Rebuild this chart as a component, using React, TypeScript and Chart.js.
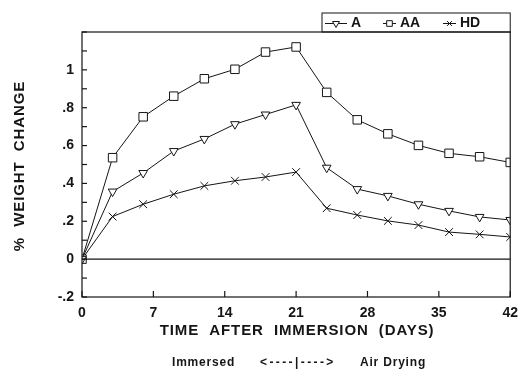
import React, { useEffect, useRef } from "react";
import { Chart, registerables } from "chart.js";

Chart.register(...registerables);

const days = [0, 3, 6, 9, 12, 15, 18, 21, 24, 27, 30, 33, 36, 39, 42];
const aValues = [0, 0.357, 0.455, 0.571, 0.635, 0.713, 0.764, 0.815, 0.483, 0.37, 0.334, 0.29, 0.255, 0.223, 0.207];
const aaValues = [0, 0.536, 0.752, 0.861, 0.953, 1.003, 1.094, 1.121, 0.881, 0.736, 0.662, 0.601, 0.559, 0.541, 0.511];
const hdValues = [0, 0.225, 0.29, 0.343, 0.387, 0.414, 0.434, 0.46, 0.269, 0.233, 0.202, 0.18, 0.143, 0.131, 0.117];
const seriesNames = ["A", "AA", "HD"];
const xTitle = "TIME  AFTER  IMMERSION  (DAYS)";
const yTitle = "%  WEIGHT  CHANGE";
const footerLeft = "Immersed";
const footerMid = "<----|---->";
const footerRight = "Air Drying";

const INK = "#151515";
const FONT = "'Liberation Sans', Arial, sans-serif";

const fmtY = (v: number) => {
  const r = Math.round(v * 10);
  if (r % 2 !== 0 || r === 12) return "";
  if (r === 0) return "0";
  if (r === 10) return "1";
  const s = (r / 10).toString();
  return s.replace("0.", ".");
};

function drawMarker(ctx: any, style: string, x: number, y: number, r: number) {
  ctx.save();
  ctx.translate(x, y);
  ctx.beginPath();
  ctx.fillStyle = "#fff";
  ctx.strokeStyle = INK;
  ctx.lineWidth = 1;
  if (style === "triangle") {
    ctx.moveTo(0, r);
    ctx.lineTo(r * 0.87, -r * 0.5);
    ctx.lineTo(-r * 0.87, -r * 0.5);
    ctx.closePath();
    ctx.fill();
    ctx.stroke();
  } else if (style === "rect") {
    const h = r * 0.707;
    ctx.rect(-h, -h, 2 * h, 2 * h);
    ctx.fill();
    ctx.stroke();
  } else {
    const h = r * 0.6;
    ctx.moveTo(-h, -h);
    ctx.lineTo(h, h);
    ctx.moveTo(h, -h);
    ctx.lineTo(-h, h);
    ctx.stroke();
  }
  ctx.restore();
}

const framePlugin = {
  id: "frame",
  afterDraw(chart: any) {
    const { ctx, chartArea: ca, scales } = chart;
    const xs = scales.x;
    const ys = scales.y;
    ctx.save();
    ctx.strokeStyle = INK;
    ctx.lineWidth = 1.2;
    ctx.strokeRect(ca.left, ca.top, ca.right - ca.left, ca.bottom - ca.top);
    const y0 = ys.getPixelForValue(0);
    ctx.beginPath();
    ctx.moveTo(ca.left, y0);
    ctx.lineTo(ca.right, y0);
    ctx.stroke();
    ys.ticks.forEach((t: any) => {
      const p = ys.getPixelForValue(t.value);
      ctx.beginPath();
      ctx.moveTo(ca.left, p);
      ctx.lineTo(ca.left + 5, p);
      ctx.stroke();
    });
    xs.ticks.forEach((t: any) => {
      const p = xs.getPixelForValue(t.value);
      ctx.beginPath();
      ctx.moveTo(p, ca.bottom);
      ctx.lineTo(p, ca.bottom - 6);
      ctx.stroke();
    });
    ctx.fillStyle = INK;
    ctx.font = `bold 15px ${FONT}`;
    (ctx as any).letterSpacing = "0.9px";
    ctx.textAlign = "center";
    ctx.textBaseline = "middle";
    ctx.fillText(xTitle, (ca.left + ca.right) / 2 + 1, 331);
    ctx.save();
    ctx.translate(20, 166);
    ctx.rotate(-Math.PI / 2);
    ctx.font = `bold 15px ${FONT}`;
    ctx.fillText(yTitle, 0, 0);
    ctx.restore();
    ctx.font = `bold 12px ${FONT}`;
    (ctx as any).letterSpacing = "0.8px";
    ctx.textAlign = "left";
    ctx.fillText(footerLeft, 172, 363);
    ctx.fillText(footerRight, 360, 363);
    (ctx as any).letterSpacing = "2.4px";
    ctx.fillText(footerMid, 260, 363);
    (ctx as any).letterSpacing = "0px";
    const lx = 322, ly = 13, lw = ca.right - lx, lh = ca.top - ly;
    ctx.lineWidth = 1;
    ctx.strokeRect(lx, ly, lw, lh);
    const styles = ["triangle", "rect", "cross"];
    const starts = [325, 383, 443];
    const widths = [22, 13, 13];
    ctx.font = `bold 14px ${FONT}`;
    ctx.textBaseline = "middle";
    styles.forEach((st, i) => {
      const sx = starts[i];
      const w = widths[i];
      const cy = ly + lh / 2 + 1;
      ctx.strokeStyle = INK;
      ctx.beginPath();
      ctx.moveTo(sx, cy);
      ctx.lineTo(sx + w, cy);
      ctx.stroke();
      drawMarker(ctx, st, sx + w / 2, cy, 4);
      ctx.fillStyle = INK;
      ctx.fillText(seriesNames[i], sx + w + 4, cy);
    });
    ctx.restore();
  },
};

export default function App() {
  const ref = useRef<HTMLCanvasElement>(null);
  useEffect(() => {
    document.body.style.margin = "0";
    const mk = (vals: number[], style: string, radius: number, rot = 0) => ({
      data: days.map((d, i) => ({ x: d, y: vals[i] })),
      borderColor: INK,
      borderWidth: 1,
      pointStyle: style,
      pointRotation: rot,
      pointRadius: radius,
      pointBackgroundColor: "#fff",
      pointBorderColor: INK,
      pointBorderWidth: 1,
      tension: 0,
    });
    const chart = new Chart(ref.current!, {
      type: "line",
      data: {
        datasets: [
          mk(aValues, "triangle", 5, 180),
          mk(aaValues, "rect", 6),
          mk(hdValues, "crossRot", 5.5),
        ],
      },
      options: {
        animation: false,
        responsive: false,
        devicePixelRatio: 1,
        layout: { padding: { top: 32, right: 8, left: 0, bottom: 0 } },
        plugins: { legend: { display: false }, tooltip: { enabled: false } },
        scales: {
          x: {
            type: "linear",
            min: 0,
            max: 42,
            grid: { display: false, drawTicks: false },
            border: { display: false },
            ticks: {
              stepSize: 7,
              padding: 8,
              color: INK,
              font: { family: FONT, weight: "bold", size: 14 },
              maxRotation: 0,
            },
            afterFit: (s: any) => {
              s.height = 73;
            },
          },
          y: {
            type: "linear",
            min: -0.2,
            max: 1.2,
            grid: { display: false, drawTicks: false },
            border: { display: false },
            ticks: {
              stepSize: 0.1,
              padding: 8,
              autoSkip: false,
              color: INK,
              font: { family: FONT, weight: "bold", size: 14 },
              callback: (v: any) => fmtY(Number(v)),
            },
            afterFit: (s: any) => {
              s.width = 82;
            },
          },
        },
      },
      plugins: [framePlugin],
    } as any);
    return () => chart.destroy();
  }, []);
  return (
    <div style={{ width: 526, height: 370, background: "#fff" }}>
      <canvas ref={ref} width={526} height={370} style={{ display: "block" }} />
    </div>
  );
}
